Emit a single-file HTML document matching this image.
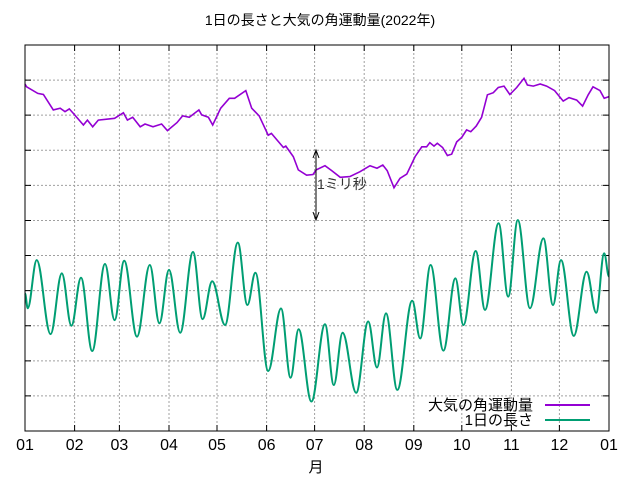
<!DOCTYPE html>
<html><head><meta charset="utf-8"><style>
html,body{margin:0;padding:0;background:#fff}
svg text{font-family:"Liberation Sans","Noto Sans CJK JP",sans-serif}
</style></head><body>
<svg id="chart" width="640" height="480" viewBox="0 0 640 480" xmlns="http://www.w3.org/2000/svg">
<rect width="640" height="480" fill="#fff"/>
<text x="320" y="25" font-size="14" text-anchor="middle" fill="#000">1日の長さと大気の角運動量(2022年)</text>
<g id="grid"></g>
<g id="series"></g>
<rect x="25" y="45" width="584" height="386" fill="none" stroke="#000" stroke-width="1"/>
<g id="xlabels"></g>
<text x="316" y="472" font-size="15" text-anchor="middle">月</text>
<g>
<line x1="316" y1="152" x2="316" y2="218" stroke="#000" stroke-width="1"/>
<path d="M313,158 L316,150 L319,158 M313,212 L316,220 L319,212" fill="none" stroke="#000" stroke-width="1"/>
<text x="317" y="189" font-size="14" fill="#333">1ミリ秒</text>
</g>
<g>
<text x="533" y="410" font-size="15" text-anchor="end">大気の角運動量</text>
<line x1="545" y1="405" x2="590" y2="405" stroke="#9400d3" stroke-width="2"/>
<text x="533" y="425" font-size="15" text-anchor="end">1日の長さ</text>
<line x1="545" y1="420" x2="590" y2="420" stroke="#009e73" stroke-width="2"/>
</g>
</svg>
<script>
const monthLabels = ["01","02","03","04","05","06","07","08","09","10","11","12","01"];
const monthDays = [31,28,31,30,31,30,31,31,30,31,30,31];
const yTicks = [0,1,2,3,4,5,6,7,8,9,10,11];
const lodDays = [0,1.7,7.3,16,23,29,35,42,50,56,62,70,78,84,90,97,105,111,117,125,133,139,144,152,160,166,171,179,187.5,193,198.5,207,214.5,220,225.6,232.7,242,247,253.5,261.5,269,274,281.7,287.5,296,302,308,315.6,324,330,335,343,351,357,362,365];
const lodValues = [3.92,3.5,4.87,2.76,4.49,3.0,4.37,2.28,4.76,3.16,4.85,2.69,4.73,3.07,4.59,2.8,5.1,3.19,4.27,3.02,5.37,3.59,4.51,1.71,3.49,1.52,2.9,0.84,3.04,1.31,2.8,1.09,3.12,1.81,3.35,1.17,3.71,2.64,4.73,2.29,4.35,3.02,5.13,3.45,5.92,3.83,6.01,3.5,5.49,3.59,4.87,2.71,4.54,3.37,5.06,4.4];
const aamDays = [0,1,8,11.5,17.7,22,25,27.7,30.6,36.5,39,42.3,45.8,56,61.5,64,67.3,72,75,80,85.4,89,95,98.5,102.7,108.7,110.4,114.6,117.3,122.3,127.7,131,138,141.7,146.4,152,154,161.5,163,167.7,170.8,176,180,182,187.5,191.7,197,203,209.4,215.6,220,223.6,226.4,230.6,234.4,238.6,243.8,248,251,253,255.6,257.7,261,264,266.7,269.8,273,276,278.6,282,285.4,289,292.7,295.8,299.4,303,307.3,311.9,314,317.7,322,326,331,336.4,340,344.8,348.5,352,355,359.4,362,365];
const aamValues = [9.89,9.81,9.62,9.59,9.15,9.2,9.1,9.18,9.03,8.72,8.86,8.67,8.86,8.91,9.07,8.86,8.94,8.67,8.75,8.67,8.75,8.56,8.79,8.98,8.94,9.15,9.01,8.94,8.72,9.2,9.48,9.48,9.7,9.2,8.98,8.43,8.48,8.08,8.12,7.82,7.44,7.29,7.31,7.44,7.56,7.42,7.23,7.25,7.39,7.56,7.49,7.58,7.42,6.93,7.2,7.32,7.82,8.1,8.1,8.22,8.12,8.2,8.08,7.85,7.89,8.24,8.37,8.58,8.53,8.69,8.94,9.58,9.64,9.79,9.83,9.59,9.79,10.05,9.86,9.83,9.89,9.83,9.7,9.4,9.5,9.43,9.26,9.58,9.81,9.7,9.48,9.53];

const X0=25,X1=609,Y0=431,Y1=45,TOTAL=365,YMAX=11;
const xs = d => X0 + d/TOTAL*(X1-X0);
const ys = v => Y0 - v/YMAX*(Y0-Y1);
const NS="http://www.w3.org/2000/svg";
const grid=document.getElementById('grid');
const ser=document.getElementById('series');
const xl=document.getElementById('xlabels');

let cum=0; const monthStarts=[0];
monthDays.forEach(d=>{cum+=d;monthStarts.push(cum);});
monthStarts.forEach((d,i)=>{
  const x=xs(d);
  if(i>0 && i<monthStarts.length-1){
    const g=document.createElementNS(NS,'line');
    
    
    g.setAttribute('x1',x);g.setAttribute('x2',x);g.setAttribute('y1',Y1);g.setAttribute('y2',Y0);
    g.setAttribute('stroke','#a0a0a0');g.setAttribute('stroke-dasharray','2,2');
    grid.appendChild(g);
  }
  const t=document.createElementNS(NS,'path');
  
  
  t.setAttribute('d',`M${x},${Y0}V${Y0-6}M${x},${Y1}V${Y1+6}`);
  t.setAttribute('stroke','#000');
  grid.appendChild(t);
  const l=document.createElementNS(NS,'text');
  
  
  l.setAttribute('x',x);l.setAttribute('y',450);l.setAttribute('font-size','16');l.setAttribute('text-anchor','middle');
  l.textContent=monthLabels[i];
  xl.appendChild(l);
});
yTicks.forEach(v=>{
  const y=ys(v);
  if(v>0 && v<YMAX){
    const g=document.createElementNS(NS,'line');
    
    
    g.setAttribute('x1',X0);g.setAttribute('x2',X1);g.setAttribute('y1',y);g.setAttribute('y2',y);
    g.setAttribute('stroke','#a0a0a0');g.setAttribute('stroke-dasharray','2,2');
    grid.appendChild(g);
  }
  const t=document.createElementNS(NS,'path');
  
  
  t.setAttribute('d',`M${X0},${y}H${X0+6}M${X1},${y}H${X1-6}`);
  t.setAttribute('stroke','#000');
  grid.appendChild(t);
});

// angular momentum polyline
let d='';
aamDays.forEach((dd,i)=>{d+=(i?'L':'M')+xs(dd).toFixed(1)+','+ys(aamValues[i]).toFixed(1);});
const p1=document.createElementNS(NS,'path');


p1.setAttribute('d',d);p1.setAttribute('fill','none');p1.setAttribute('stroke','#9400d3');p1.setAttribute('stroke-width','1.6');
ser.appendChild(p1);

// day length: smooth curve through extrema
let d2='M'+xs(lodDays[0]).toFixed(1)+','+ys(lodValues[0]).toFixed(1);
for(let i=1;i<lodDays.length;i++){
  const xa=xs(lodDays[i-1]),ya=ys(lodValues[i-1]),xb=xs(lodDays[i]),yb=ys(lodValues[i]);
  const k=(xb-xa)*0.37;
  d2+=`C${(xa+k).toFixed(1)},${ya.toFixed(1)} ${(xb-k).toFixed(1)},${yb.toFixed(1)} ${xb.toFixed(1)},${yb.toFixed(1)}`;
}
const p2=document.createElementNS(NS,'path');


p2.setAttribute('d',d2);p2.setAttribute('fill','none');p2.setAttribute('stroke','#009e73');p2.setAttribute('stroke-width','2');
ser.appendChild(p2);
</script>
</body></html>
